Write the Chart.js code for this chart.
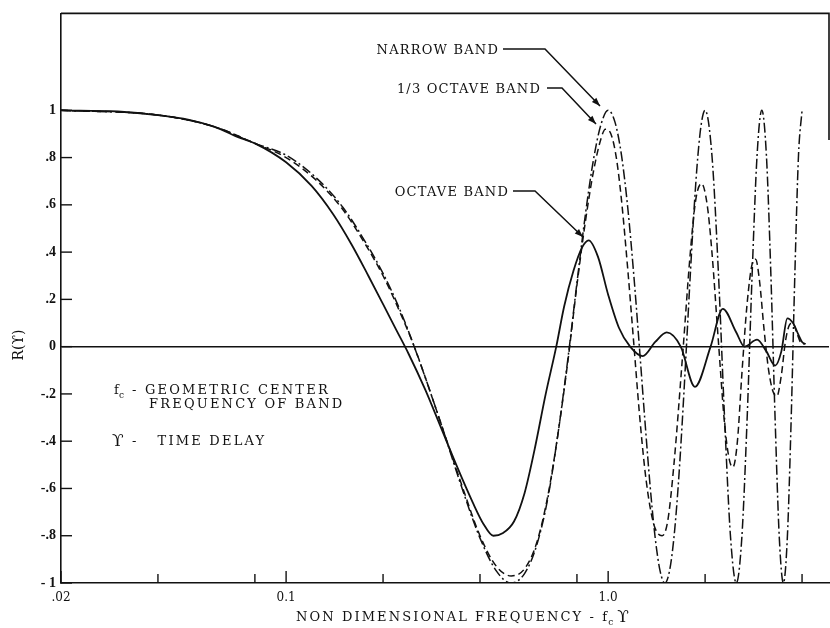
<!DOCTYPE html>
<html>
<head>
<meta charset="utf-8">
<script src="https://cdn.jsdelivr.net/npm/chart.js@4.4.0/dist/chart.umd.min.js"></script>
<style>
    html, body { margin: 0; padding: 0; background: #fff; }
</style>
</head>
<body>
<canvas id="myChart" width="830" height="628"></canvas>
<script>
// values (x = f_c * tau, log axis)
var freqOctave = [0.02, 0.03, 0.04, 0.05, 0.06, 0.07, 0.08, 0.1, 0.12, 0.14, 0.16, 0.18, 0.2, 0.22, 0.24, 0.27, 0.3, 0.34, 0.38, 0.41, 0.44, 0.47, 0.51, 0.55, 0.59, 0.64, 0.69, 0.73, 0.78, 0.83, 0.87, 0.93, 1.0, 1.08, 1.17, 1.28, 1.4, 1.52, 1.68, 1.86, 2.08, 2.27, 2.5, 2.65, 2.9, 3.1, 3.3, 3.45, 3.6, 3.75, 3.9, 4.0, 4.1];
var rOctave = [1.0, 0.995, 0.98, 0.96, 0.93, 0.89, 0.86, 0.78, 0.68, 0.56, 0.43, 0.3, 0.18, 0.07, -0.03, -0.18, -0.33, -0.51, -0.66, -0.75, -0.8, -0.79, -0.74, -0.62, -0.44, -0.2, 0.0, 0.17, 0.32, 0.42, 0.45, 0.38, 0.22, 0.08, 0.0, -0.04, 0.02, 0.06, 0.0, -0.17, 0.0, 0.16, 0.06, 0.0, 0.03, -0.02, -0.08, -0.02, 0.12, 0.1, 0.05, 0.02, 0.01];

var freqThird = [0.02, 0.04, 0.06, 0.08, 0.1, 0.125, 0.15, 0.175, 0.2, 0.225, 0.25, 0.3, 0.35, 0.4, 0.45, 0.5, 0.55, 0.6, 0.65, 0.7, 0.75, 0.8, 0.85, 0.9, 0.95, 0.98, 1.02, 1.06, 1.1, 1.15, 1.2, 1.25, 1.3, 1.35, 1.4, 1.47, 1.53, 1.6, 1.7, 1.8, 1.87, 1.95, 2.03, 2.1, 2.2, 2.3, 2.38, 2.44, 2.52, 2.6, 2.7, 2.8, 2.87, 2.95, 3.05, 3.15, 3.25, 3.34, 3.45, 3.55, 3.65, 3.74, 3.85, 3.95, 4.05];
var rThird = [1.0, 0.98, 0.93, 0.86, 0.8, 0.7, 0.58, 0.44, 0.3, 0.15, 0.0, -0.31, -0.58, -0.8, -0.93, -0.97, -0.94, -0.83, -0.63, -0.36, -0.06, 0.26, 0.53, 0.74, 0.88, 0.92, 0.9, 0.8, 0.62, 0.33, 0.02, -0.28, -0.52, -0.68, -0.77, -0.8, -0.74, -0.5, -0.05, 0.4, 0.62, 0.69, 0.6, 0.4, 0.02, -0.33, -0.48, -0.51, -0.4, -0.12, 0.18, 0.35, 0.37, 0.28, 0.07, -0.1, -0.19, -0.21, -0.12, 0.02, 0.09, 0.1, 0.06, 0.02, 0.01];

var freqNarrow = [0.02, 0.04, 0.06, 0.08, 0.1, 0.125, 0.15, 0.175, 0.2, 0.225, 0.25, 0.3, 0.35, 0.4, 0.45, 0.5, 0.55, 0.6, 0.65, 0.7, 0.75, 0.8, 0.85, 0.9, 0.95, 1.0, 1.05, 1.1, 1.15, 1.2, 1.25, 1.3, 1.35, 1.4, 1.45, 1.5, 1.55, 1.6, 1.65, 1.7, 1.75, 1.8, 1.85, 1.9, 1.95, 2.0, 2.1, 2.2, 2.3, 2.4, 2.5, 2.6, 2.7, 2.8, 2.9, 3.0, 3.1, 3.2, 3.3, 3.4, 3.5, 3.6, 3.7, 3.8, 3.9, 4.0];
var rNarrow = [1.0, 0.98, 0.93, 0.86, 0.81, 0.71, 0.59, 0.45, 0.31, 0.16, 0.0, -0.31, -0.59, -0.81, -0.95, -1.0, -0.96, -0.84, -0.64, -0.36, -0.05, 0.27, 0.56, 0.79, 0.94, 1.0, 0.95, 0.81, 0.59, 0.31, 0.0, -0.31, -0.59, -0.81, -0.95, -1.0, -0.95, -0.81, -0.59, -0.31, 0.0, 0.31, 0.59, 0.81, 0.95, 1.0, 0.81, 0.31, -0.31, -0.81, -1.0, -0.81, -0.31, 0.31, 0.81, 1.0, 0.81, 0.31, -0.31, -0.81, -1.0, -0.81, -0.31, 0.31, 0.81, 1.0];

// tick labels
var xTicks = [0.02, 0.1, 1];
var xTickLabels = ['.02', '0.1', '1.0'];
var xMinorTicks = [0.04, 0.08, 0.2, 0.4, 0.8, 2, 4];
var yTicks = [-1, -0.8, -0.6, -0.4, -0.2, 0, 0.2, 0.4, 0.6, 0.8, 1];
var yTickLabels = ['- 1', '-.8', '-.6', '-.4', '-.2', '0', '.2', '.4', '.6', '.8', '1'];

var INK = '#111';
var SERIF = '"DejaVu Serif", "Liberation Serif", serif';

function toPoints(xs, ys) {
    return xs.map(function(x, i) { return { x: x, y: ys[i] }; });
}

// frame, inward ticks, labels and notes
var decorations = {
    id: 'decorations',
    afterDraw: function(chart) {
        var c = chart.ctx;
        var a = chart.chartArea;
        var xs = chart.scales.x, ys = chart.scales.y;
        c.save();
        c.strokeStyle = INK;
        c.fillStyle = INK;
        c.lineWidth = 1.6;

        // top border and the bit of right border that survived the scan
        c.beginPath();
        c.moveTo(a.left, a.top);
        c.lineTo(a.right, a.top);
        c.lineTo(a.right, 140);
        c.stroke();

        // y ticks pointing in
        c.lineWidth = 1.4;
        yTicks.forEach(function(v) {
            var py = ys.getPixelForValue(v);
            c.beginPath();
            c.moveTo(a.left, py);
            c.lineTo(a.left + 11, py);
            c.stroke();
        });
        // x ticks pointing up
        xTicks.forEach(function(v) {
            var px = xs.getPixelForValue(v);
            c.beginPath();
            c.moveTo(px, a.bottom);
            c.lineTo(px, a.bottom - 12);
            c.stroke();
        });
        xMinorTicks.forEach(function(v) {
            var px = xs.getPixelForValue(v);
            c.beginPath();
            c.moveTo(px, a.bottom);
            c.lineTo(px, a.bottom - 9);
            c.stroke();
        });

        c.textBaseline = 'alphabetic';
        c.textAlign = 'left';

        // x axis title
        c.letterSpacing = '2.1px';
        c.font = '13px ' + SERIF;
        var t1 = 'NON DIMENSIONAL FREQUENCY - f';
        var tx = 296;
        c.fillText(t1, tx, 621);
        var w1 = c.measureText(t1).width;
        c.font = '9px ' + SERIF;
        c.fillText('c', tx + w1 - 1, 625);
        c.font = '17px ' + SERIF;
        c.fillText('ϒ', tx + w1 + 8, 622);

        // y axis title
        c.save();
        c.letterSpacing = '0px';
        c.translate(23, 345);
        c.rotate(-Math.PI / 2);
        c.textAlign = 'center';
        c.font = '14px ' + SERIF;
        c.fillText('R(ϒ)', 0, 0);
        c.restore();

        // notes in lower left
        c.letterSpacing = '2.2px';
        c.font = '13px ' + SERIF;
        c.fillText('f', 114, 394);
        c.font = '9px ' + SERIF;
        c.fillText('c', 119, 398);
        c.font = '13px ' + SERIF;
        c.fillText('- GEOMETRIC CENTER', 132, 394);
        c.fillText('FREQUENCY OF BAND', 149, 408);
        c.font = '17px ' + SERIF;
        c.fillText('ϒ', 112, 446);
        c.font = '13px ' + SERIF;
        c.fillText('-   TIME DELAY', 132, 445);

        // callouts
        c.letterSpacing = '1.2px';
        function callout(label, textRight, ty, path) {
            c.font = '13px ' + SERIF;
            c.textAlign = 'right';
            c.fillText(label, textRight, ty + 5);
            c.lineWidth = 1.5;
            c.beginPath();
            c.moveTo(path[0][0], path[0][1]);
            for (var i = 1; i < path.length; i++) c.lineTo(path[i][0], path[i][1]);
            c.stroke();
            var p1 = path[path.length - 2], p2 = path[path.length - 1];
            var ang = Math.atan2(p2[1] - p1[1], p2[0] - p1[0]);
            c.beginPath();
            c.moveTo(p2[0], p2[1]);
            c.lineTo(p2[0] - 9 * Math.cos(ang - 0.35), p2[1] - 9 * Math.sin(ang - 0.35));
            c.lineTo(p2[0] - 9 * Math.cos(ang + 0.35), p2[1] - 9 * Math.sin(ang + 0.35));
            c.closePath();
            c.fill();
        }
        callout('NARROW BAND', 499, 49, [[503, 49], [545, 49], [600, 106]]);
        callout('1/3 OCTAVE BAND', 541, 88, [[547, 88], [562, 88], [596, 124]]);
        callout('OCTAVE BAND', 509, 191, [[513, 191], [535, 191], [583, 237]]);

        c.restore();
    }
};

var ctx = document.getElementById('myChart').getContext('2d');
var myChart = new Chart(ctx, {
    type: 'line',
    data: {
        datasets: [{
            label: 'OCTAVE BAND',
            data: toPoints(freqOctave, rOctave),
            borderColor: INK,
            borderWidth: 1.8,
            pointRadius: 0,
            cubicInterpolationMode: 'monotone',
            fill: false
        }, {
            label: '1/3 OCTAVE BAND',
            data: toPoints(freqThird, rThird),
            borderColor: INK,
            borderWidth: 1.5,
            borderDash: [7, 4],
            pointRadius: 0,
            cubicInterpolationMode: 'monotone',
            fill: false
        }, {
            label: 'NARROW BAND',
            data: toPoints(freqNarrow, rNarrow),
            borderColor: INK,
            borderWidth: 1.5,
            borderDash: [10, 3, 2, 3],
            pointRadius: 0,
            cubicInterpolationMode: 'monotone',
            fill: false
        }]
    },
    options: {
        responsive: false,
        animation: false,
        layout: { padding: { top: 9, right: 1, left: 0, bottom: 0 } },
        plugins: {
            legend: { display: false },
            tooltip: { enabled: false }
        },
        scales: {
            x: {
                type: 'logarithmic',
                min: 0.02,
                max: 4.85,
                afterBuildTicks: function(scale) {
                    scale.ticks = xTicks.map(function(v) { return { value: v }; });
                },
                afterFit: function(scale) { scale.height = 45; },
                ticks: {
                    autoSkip: false,
                    maxRotation: 0,
                    padding: 0,
                    color: INK,
                    font: { family: SERIF, size: 12 },
                    callback: function(value) {
                        return xTickLabels[xTicks.indexOf(value)];
                    }
                },
                grid: { display: false },
                border: { display: true, color: INK, width: 1.6 }
            },
            y: {
                type: 'linear',
                min: -1,
                max: 1.41,
                afterBuildTicks: function(scale) {
                    scale.ticks = yTicks.map(function(v) { return { value: v }; });
                },
                afterFit: function(scale) { scale.width = 61; },
                ticks: {
                    autoSkip: false,
                    padding: 5,
                    color: INK,
                    font: { family: '"Liberation Serif", serif', size: 14, weight: 'bold' },
                    callback: function(value) {
                        return yTickLabels[yTicks.indexOf(value)];
                    }
                },
                grid: {
                    drawTicks: false,
                    lineWidth: 1.6,
                    color: function(c) {
                        return c.tick && c.tick.value === 0 ? INK : 'rgba(0,0,0,0)';
                    }
                },
                border: { display: true, color: INK, width: 1.6 }
            }
        }
    },
    plugins: [decorations]
});
</script>
</body>
</html>
